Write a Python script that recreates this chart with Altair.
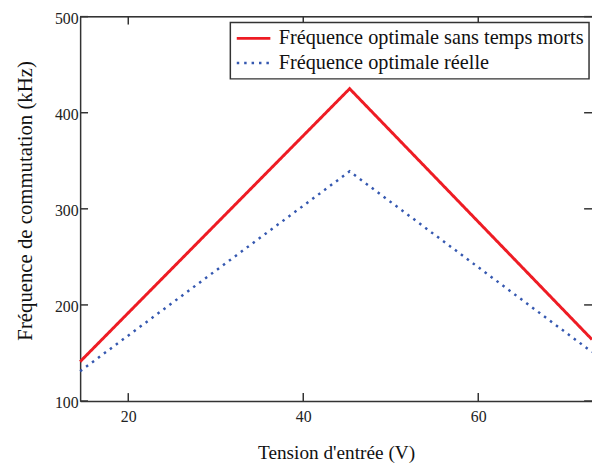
import altair as alt
import pandas as pd

# Data
series_names = ["Fréquence optimale sans temps morts", "Fréquence optimale réelle"]
x_red = [14.5, 45.3, 73.0]
y_red = [141, 425, 164]
x_blue = [14.5, 45.3, 73.0]
y_blue = [131, 339, 151]

x_ticks = [20, 40, 60]
y_ticks = [100, 200, 300, 400, 500]

X_DOMAIN = [14.5, 73.0]
Y_DOMAIN = [100, 500]

W, H = 518, 389
FONT = "Liberation Serif"
AXIS_COLOR = "#333333"

df = pd.DataFrame(
    {
        "x": x_red + x_blue,
        "y": y_red + y_blue,
        "s": [series_names[0]] * len(x_red) + [series_names[1]] * len(x_blue),
        "o": list(range(len(x_red))) + list(range(len(x_blue))),
    }
)

xs = alt.Scale(domain=X_DOMAIN, nice=False, zero=False)
ys = alt.Scale(domain=Y_DOMAIN, nice=False, zero=False)

x_axis = alt.Axis(
    title="Tension d'entrée (V)",
    values=x_ticks,
    ticks=False,
    grid=False,
    labelPadding=8,
    titlePadding=19,
    labelFlush=False,
    titleFontSize=19.5,
)
y_axis = alt.Axis(
    title="Fréquence de commutation (kHz)",
    values=y_ticks,
    ticks=False,
    grid=False,
    labelPadding=2,
    labelOffset=2,
    titlePadding=19,
    titleY=186,
    labelFlush=False,
    titleFontSize=21,
)

lines = alt.Chart(df).mark_line(strokeCap="butt", strokeJoin="miter").encode(
    x=alt.X("x:Q", scale=xs, axis=x_axis),
    y=alt.Y("y:Q", scale=ys, axis=y_axis),
    order="o:Q",
    color=alt.Color(
        "s:N",
        scale=alt.Scale(domain=series_names, range=["#ee1c24", "#3558b0"]),
        legend=alt.Legend(title=None),
    ),
    strokeDash=alt.StrokeDash(
        "s:N",
        scale=alt.Scale(domain=series_names, range=[[1, 0], [2.5, 5]]),
        legend=alt.Legend(title=None),
    ),
    strokeWidth=alt.StrokeWidth(
        "s:N",
        scale=alt.Scale(domain=series_names, range=[3, 2.5]),
        legend=None,
    ),
)

xt = pd.DataFrame({"x": x_ticks})
yt = pd.DataFrame({"y": y_ticks})

rule = dict(color=AXIS_COLOR, strokeWidth=1.5)
tick_bottom = alt.Chart(xt).mark_rule(**rule).encode(
    x=alt.X("x:Q", scale=xs, axis=x_axis), y=alt.value(H), y2=alt.value(H - 8)
)
tick_top = alt.Chart(xt).mark_rule(**rule).encode(
    x=alt.X("x:Q", scale=xs, axis=x_axis), y=alt.value(0), y2=alt.value(8)
)
tick_left = alt.Chart(yt).mark_rule(**rule).encode(
    y=alt.Y("y:Q", scale=ys, axis=y_axis), x=alt.value(0), x2=alt.value(8)
)
tick_right = alt.Chart(yt).mark_rule(**rule).encode(
    y=alt.Y("y:Q", scale=ys, axis=y_axis), x=alt.value(W), x2=alt.value(W - 8)
)
top_border = alt.Chart(xt).mark_rule(**rule).encode(
    x=alt.value(0), x2=alt.value(W), y=alt.value(0)
)

chart = (
    alt.layer(lines, tick_bottom, tick_top, tick_left, tick_right, top_border)
    .properties(
        width=W,
        height=H,
        padding={"left": 73, "top": 6, "right": 0, "bottom": 61},
        autosize=alt.AutoSizeParams(type="none"),
    )
    .configure_view(stroke=None)
    .configure_axis(
        labelFont=FONT,
        titleFont=FONT,
        labelFontSize=16,
        labelColor="#222222",
        titleColor="#111111",
        titleFontWeight="normal",
        domainColor=AXIS_COLOR,
        domainWidth=1.5,
    )
    .configure_legend(
        orient="none",
        legendX=152,
        legendY=6,
        fillColor="white",
        strokeColor=AXIS_COLOR,
        strokeWidth=1.5,
        padding=5,
        labelFont=FONT,
        labelFontSize=20.5,
        labelColor="#111111",
        labelLimit=500,
        labelOffset=7,
        symbolType="stroke",
        symbolSize=1156,
        symbolStrokeWidth=3,
        clipHeight=22,
        rowPadding=3,
    )
)

chart.save("out.html", embed_options={"renderer": "svg", "actions": False})
